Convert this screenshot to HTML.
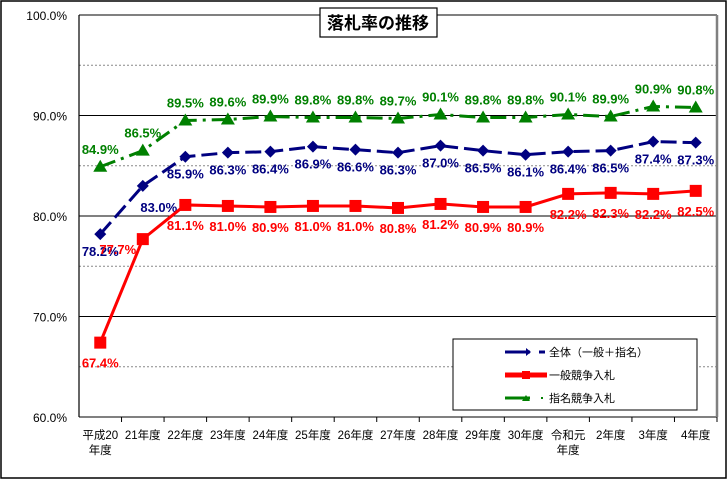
<!DOCTYPE html>
<html><head><meta charset="utf-8"><style>
body{margin:0;background:#fff}
svg{display:block;font-family:"Liberation Sans","Noto Sans CJK JP",sans-serif}
</style></head><body>
<svg width="727" height="479" viewBox="0 0 727 479" xmlns="http://www.w3.org/2000/svg">
<rect x="1" y="1" width="725" height="477" fill="#fff" stroke="#000" stroke-width="1.5"/>
<g id="grid"></g>
<g id="axes"></g>
<g id="series"></g>
<g>
<rect x="320" y="8" width="117" height="29" fill="#fff" stroke="#000" stroke-width="1.2"/>
<text x="378" y="29" text-anchor="middle" font-size="17" font-weight="bold">落札率の推移</text>
</g>
<g>
<rect x="453" y="339" width="244" height="71" fill="#fff" stroke="#000" stroke-width="1"/>
<g>
<line x1="505" y1="352" x2="530" y2="352" stroke="#000080" stroke-width="3"/><path d="M526 348 L531 352 L526 356 Z" fill="#000080"/><line x1="539" y1="352" x2="545" y2="352" stroke="#000080" stroke-width="3"/>
<text x="549" y="356" font-size="11">全体（一般＋指名）</text></g>
<g>
<line x1="505" y1="375" x2="547" y2="375" stroke="#ff0000" stroke-width="5"/><rect x="522" y="371" width="8" height="8" fill="#ff0000"/>
<text x="549" y="379" font-size="11">一般競争入札</text></g>
<g>
<line x1="505" y1="398" x2="530" y2="398" stroke="#008000" stroke-width="3"/><path d="M522 401 L526 395 L530 401 Z" fill="#008000"/><rect x="541" y="397" width="2" height="2" fill="#008000"/>
<text x="549" y="402" font-size="11">指名競争入札</text></g>
</g>
</svg>
<script>
const categories=["平成20\n年度","21年度","22年度","23年度","24年度","25年度","26年度","27年度","28年度","29年度","30年度","令和元\n年度","2年度","3年度","4年度"];
const totalValues=[78.2,83.0,85.9,86.3,86.4,86.9,86.6,86.3,87.0,86.5,86.1,86.4,86.5,87.4,87.3];
const generalValues=[67.4,77.7,81.1,81.0,80.9,81.0,81.0,80.8,81.2,80.9,80.9,82.2,82.3,82.2,82.5];
const designatedValues=[84.9,86.5,89.5,89.6,89.9,89.8,89.8,89.7,90.1,89.8,89.8,90.1,89.9,90.9,90.8];
const yTicks=[60,70,80,90,100];
const yMinor=[65,75,85,95];
const NS="http://www.w3.org/2000/svg";
const L=79,R=717,T=15,B=417,yMin=60,yMax=100;
const bw=(R-L)/categories.length;
function xs(i){return L+bw*(i+0.5);}
function ys(v){return B-(v-yMin)/(yMax-yMin)*(B-T);}
function mk(tag,attrs,parent,txt){const e=document.createElementNS(NS,tag);for(const k in attrs)e.setAttribute(k,attrs[k]);if(txt!==undefined)e.textContent=txt;parent.appendChild(e);return e;}
const grid=document.getElementById('grid'),axes=document.getElementById('axes'),ser=document.getElementById('series');
yMinor.forEach(v=>{const l=mk('line',{x1:L,x2:R,y1:ys(v),y2:ys(v),stroke:'#888','stroke-dasharray':'2,2','stroke-width':1},grid);

});
yTicks.forEach(v=>{const l=mk('line',{x1:L,x2:R,y1:ys(v),y2:ys(v),stroke:v==100?'#808080':'#000','stroke-width':v==100?2:1},grid);


const t=mk('text',{x:L-12,y:ys(v)+5,'text-anchor':'end','font-size':12},axes,v.toFixed(1)+'%');

});
mk('line',{x1:R,x2:R,y1:T,y2:B,stroke:'#808080','stroke-width':2.5},axes);
mk('line',{x1:L,x2:L,y1:T,y2:B,stroke:'#000','stroke-width':1.2},axes);
categories.forEach((c,i)=>{mk('line',{x1:L+bw*(i+1),x2:L+bw*(i+1),y1:B,y2:B+5,stroke:'#000'},axes);
const lines=c.split('\n');lines.forEach((s,j)=>{const t=mk('text',{x:xs(i),y:B+22+j*15,'text-anchor':'middle','font-size':11.5},axes,s);

});});
function series(vals,color,dash,width,marker,name,lblDy,adj){
const g=mk('g',{},ser);


mk('polyline',{points:vals.map((v,i)=>xs(i)+','+ys(v)).join(' '),fill:'none',stroke:color,'stroke-width':width,'stroke-dasharray':dash},g);
vals.forEach((v,i)=>{const x=xs(i),y=ys(v);let m;
if(marker=='d')m=mk('path',{d:`M${x} ${y-6}L${x+6} ${y}L${x} ${y+6}L${x-6} ${y}Z`,fill:color},g);
else if(marker=='s')m=mk('rect',{x:x-6,y:y-6,width:12,height:12,fill:color},g);
else m=mk('path',{d:`M${x} ${y-7}L${x+7} ${y+5}L${x-7} ${y+5}Z`,fill:color},g);


const a=(adj&&adj[i])||[0,0];
const t=mk('text',{x:x+a[0],y:y+lblDy+a[1],'text-anchor':'middle','font-size':13,'font-weight':'bold',fill:color},g,v.toFixed(1)+'%');

});}
series(designatedValues,'#008000','16,6,3,6',3,'t','series-designated',-13,null);
series(totalValues,'#000080','16,6',3,'d','series-total',22,{1:[16,4]});
series(generalValues,'#ff0000','none',3,'s','series-general',25,{1:[-25,-10]});
</script>
</body></html>
